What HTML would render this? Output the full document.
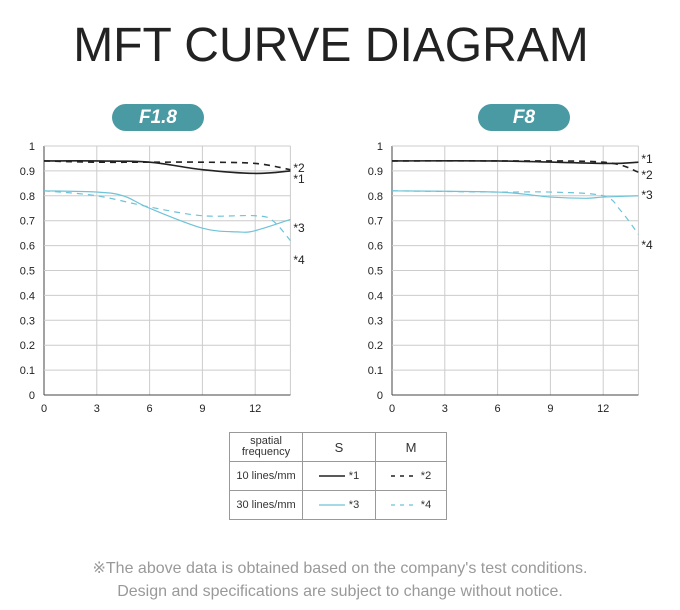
<!DOCTYPE html>
<html><head><meta charset="utf-8"><style>
body{margin:0;background:#fff;width:680px;height:610px;overflow:hidden;font-family:"Liberation Sans",sans-serif}
.title{position:absolute;left:0;top:18px;width:662px;text-align:center;font-size:48px;letter-spacing:0px;color:#222}
.pill{position:absolute;top:104px;width:92px;height:27px;border-radius:14px;background:#4a9aa3;color:#fff;font-style:italic;font-weight:bold;font-size:19px;text-align:center;line-height:27px}
table{position:absolute;left:229px;top:432px;border-collapse:collapse;font-size:11px;color:#333}
td{border:1px solid #999;text-align:center;height:28px;padding:0}
.note{position:absolute;left:0;width:680px;text-align:center;color:#999;font-size:16px}
</style></head><body>
<div class="title">MFT CURVE DIAGRAM</div>
<div class="pill" style="left:112px">F1.8</div>
<div class="pill" style="left:478px">F8</div>
<svg id="svg" width="680" height="430" style="position:absolute;left:0;top:0"></svg>
<table>
<tr><td style="width:72px;line-height:11px">spatial<br>frequency</td><td style="width:72px;font-size:13px">S</td><td style="width:70px;font-size:13px">M</td></tr>
<tr><td>10 lines/mm</td><td><svg width="30" height="6"><line x1="0" y1="3" x2="26" y2="3" stroke="#222" stroke-width="1.5"/></svg>*1</td><td><svg width="30" height="6"><line x1="0" y1="3" x2="26" y2="3" stroke="#222" stroke-width="1.5" stroke-dasharray="4 5"/></svg>*2</td></tr>
<tr><td>30 lines/mm</td><td><svg width="30" height="6"><line x1="0" y1="3" x2="26" y2="3" stroke="#6ec3d8" stroke-width="1.2"/></svg>*3</td><td><svg width="30" height="6"><line x1="0" y1="3" x2="26" y2="3" stroke="#6ec3d8" stroke-width="1.2" stroke-dasharray="4 5"/></svg>*4</td></tr>
</table>
<div class="note" style="top:558px">※The above data is obtained based on the company's test conditions.</div>
<div class="note" style="top:583px">Design and specifications are subject to change without notice.</div>
<script>
const xTicks=[0,3,6,9,12];
const yTicks=[0,0.1,0.2,0.3,0.4,0.5,0.6,0.7,0.8,0.9,1];
const f18X_S10=[0,3,6,9,12,14], f18_S10=[0.94,0.94,0.935,0.905,0.89,0.90];
const f18X_M10=[0,3,6,9,12,14], f18_M10=[0.94,0.935,0.935,0.935,0.93,0.905];
const f18X_S30=[0,3,4.5,6,9,11,12,14], f18_S30=[0.82,0.815,0.80,0.75,0.67,0.655,0.66,0.705];
const f18X_M30=[0,3,6,9,12,13,14], f18_M30=[0.82,0.80,0.755,0.72,0.72,0.70,0.62];
const f8X_S10=[0,6,12,14], f8_S10=[0.94,0.94,0.93,0.935];
const f8X_M10=[0,6,12,14], f8_M10=[0.94,0.94,0.935,0.895];
const f8X_S30=[0,6,9,11,12,14], f8_S30=[0.82,0.815,0.795,0.79,0.795,0.80];
const f8X_M30=[0,6,9,12,13,14], f8_M30=[0.82,0.815,0.815,0.80,0.74,0.645];
const svg=document.getElementById('svg'),NS='http://www.w3.org/2000/svg';
function mk(t,a){const e=document.createElementNS(NS,t);for(const k in a)e.setAttribute(k,a[k]);svg.appendChild(e);return e;}
function chart(ox,name,series){
 const sx=v=>ox+v*17.6, sy=v=>395-v*249;
 for(const t of xTicks.concat([14])){const l=mk('line',{x1:sx(t),x2:sx(t),y1:sy(1),y2:sy(0),stroke:t==0?'#444':'#ccc','stroke-width':1});
 }
 for(const t of yTicks){const l=mk('line',{x1:sx(0),x2:sx(14),y1:sy(t),y2:sy(t),stroke:t==0?'#444':'#ccc','stroke-width':1});
 
 const tx=mk('text',{x:ox-9,y:sy(t)+4,'text-anchor':'end','font-size':11,fill:'#222'});tx.textContent=String(t);
 }
 for(const t of xTicks){const tx=mk('text',{x:sx(t),y:412,'text-anchor':'middle','font-size':11,fill:'#222'});tx.textContent=t;
 }
 for(const s of series){
  const p=s.xs.map((x,i)=>[sx(x),sy(s.ys[i])]);
  let d='M'+p[0][0]+','+p[0][1];
  for(let i=0;i<p.length-1;i++){const p0=p[Math.max(0,i-1)],p1=p[i],p2=p[i+1],p3=p[Math.min(p.length-1,i+2)];
   d+=' C'+(p1[0]+(p2[0]-p0[0])/6)+','+(p1[1]+(p2[1]-p0[1])/6)+' '+(p2[0]-(p3[0]-p1[0])/6)+','+(p2[1]-(p3[1]-p1[1])/6)+' '+p2[0]+','+p2[1];}
  const path=mk('path',{d:d,fill:'none',stroke:s.c,'stroke-width':s.w,'stroke-dasharray':s.dash||'none'});
  
  const lb=mk('text',{x:sx(14)+3,y:s.ly,'font-size':12,fill:'#222'});lb.textContent='*'+s.id;
  
 }
}
chart(44,'f18',[
 {id:1,xs:f18X_S10,ys:f18_S10,c:'#222',w:1.6,ly:183},
 {id:2,xs:f18X_M10,ys:f18_M10,c:'#222',w:1.6,dash:'6 5',ly:172},
 {id:3,xs:f18X_S30,ys:f18_S30,c:'#6ec3d8',w:1.2,ly:232},
 {id:4,xs:f18X_M30,ys:f18_M30,c:'#6ec3d8',w:1.2,dash:'6 5',ly:264}]);
chart(392,'f8',[
 {id:1,xs:f8X_S10,ys:f8_S10,c:'#222',w:1.6,ly:163},
 {id:2,xs:f8X_M10,ys:f8_M10,c:'#222',w:1.6,dash:'6 5',ly:179},
 {id:3,xs:f8X_S30,ys:f8_S30,c:'#6ec3d8',w:1.2,ly:199},
 {id:4,xs:f8X_M30,ys:f8_M30,c:'#6ec3d8',w:1.2,dash:'6 5',ly:249}]);
</script>
</body></html>
